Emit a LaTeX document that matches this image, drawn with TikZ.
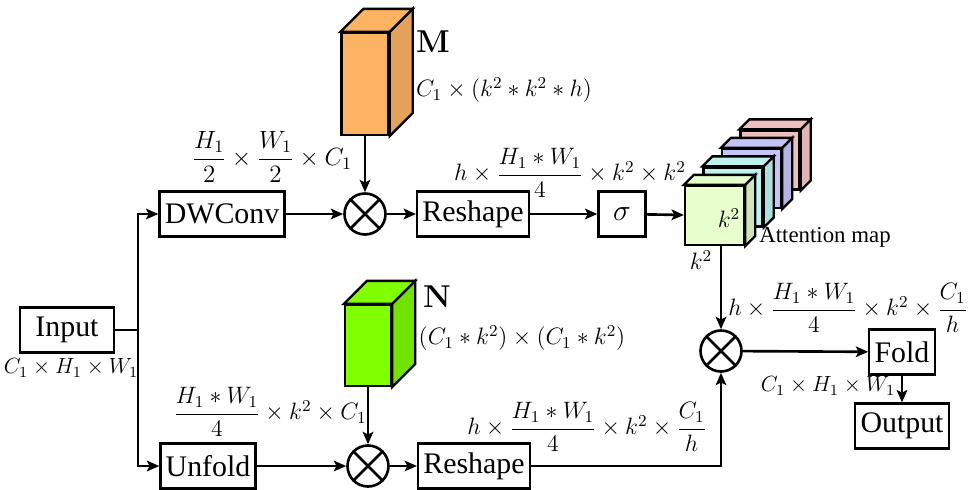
\documentclass[tikz,border=0pt]{standalone}
\usepackage{fix-cm}
\usepackage{amsmath}
\usepackage[no-math]{fontspec}
\setmainfont{Liberation Serif}
\usepackage{tikz}
\usetikzlibrary{arrows.meta,positioning,calc}

\definecolor{mfront}{RGB}{253,180,98}
\definecolor{mside}{RGB}{228,162,92}
\definecolor{nfront}{RGB}{128,255,0}
\definecolor{nside}{RGB}{112,228,0}
\definecolor{gfront}{RGB}{230,255,204}
\definecolor{gside}{RGB}{208,228,182}
\definecolor{cfront}{RGB}{190,242,240}
\definecolor{cside}{RGB}{174,222,222}
\definecolor{lfront}{RGB}{196,196,246}
\definecolor{lside}{RGB}{180,180,226}
\definecolor{pfront}{RGB}{238,192,192}
\definecolor{pside}{RGB}{226,180,180}

\tikzset{
    block/.style={draw, line width=1.3pt, fill=white, inner xsep=3pt, minimum height=0.9cm, font=\fontsize{17}{20}\selectfont},
    mult/.style={circle, draw, line width=1.5pt, minimum size=0.82cm, inner sep=0pt,
        path picture={\draw[line width=1.5pt] (path picture bounding box.north west) -- (path picture bounding box.south east)
            (path picture bounding box.south west) -- (path picture bounding box.north east);}},
    dims/.style={font=\fontsize{13.5}{16}\selectfont},
    face/.style={draw, line width=1.3pt, inner sep=0pt},
    arr/.style={-{Stealth[length=7pt,width=6pt,inset=1.5pt]}, line width=1.5pt},
    wire/.style={line width=1.5pt},
}

% side and top faces of a block drawn behind a front node
\newcommand{\depthfaces}[4]{%
    \draw[face, fill=#3] (#1.north east) -- ++(#2,-#2) -- ($(#1.south east)+(#2,-#2)$) -- (#1.south east) -- cycle;
    \draw[face, fill=#4] (#1.north west) -- ++(#2,-#2) -- ($(#1.north east)+(#2,-#2)$) -- (#1.north east) -- cycle;
}

\begin{document}
\begin{tikzpicture}[x=0.02cm, y=-0.02cm]
    \useasboundingbox (0,0) rectangle (970,490);

    % Input and split
    \node[block, minimum width=1.88cm] (in) at (67,330) {Input};
    \node[dims, font=\fontsize{12.5}{15}\selectfont] (inlbl) at (71,368) {$C_1 \times H_1 \times W_1$};
    \coordinate (split) at (138,330);

    % Upper branch
    \node[block] (dw) at (222,214) {DWConv};
    \node[dims, font=\fontsize{14.2}{17}\selectfont] (dwlbl) at (272,157) {$\dfrac{H_1}{2} \times \dfrac{W_1}{2} \times C_1$};
    \node[mult] (mul1) at (365,214) {};
    \node[block] (rs1) at (473,214) {Reshape};
    \node[dims] (rs1lbl) at (570,173) {$h \times \dfrac{H_1 * W_1}{4} \times k^2 \times k^2$};
    \node[block, minimum width=0.94cm] (sig) at (622,214) {$\sigma$};

    % Block M
    \node[face, fill=mfront, minimum width=0.94cm, minimum height=2.04cm] (M) at (365,84) {};
    \depthfaces{M}{23}{mside}{mfront}
    \node[font=\fontsize{18}{20}\selectfont] (mlbl) at (433,42) {$\mathbf{M}$};
    \node[dims] (mdim) at (504,90) {$C_1 \times (k^2 * k^2 * h)$};

    % Attention map
    \foreach \i/\fc/\sc in {3/pfront/pside, 2/lfront/lside, 1/cfront/cside, 0/gfront/gside} {
        \node[face, fill=\fc, minimum size=1.18cm] (att\i) at (714.5+18.5*\i, 215.5-18.5*\i) {};
        \depthfaces{att\i}{10}{\sc}{\fc}
    }
    \node[dims] (k2a) at (729,218) {$k^2$};
    \node[dims] (k2b) at (701,260) {$k^2$};
    \node[font=\fontsize{13}{15}\selectfont] (attlbl) at (825,237) {Attention map};

    % Lower branch
    \node[block] (unf) at (208,466) {Unfold};
    \node[dims] (unflbl) at (270,412) {$\dfrac{H_1 * W_1}{4} \times k^2 \times C_1$};
    \node[mult] (mul2) at (368,466) {};
    \node[block] (rs2) at (474,466) {Reshape};
    \node[dims] (rs2lbl) at (587,427) {$h \times \dfrac{H_1 * W_1}{4} \times k^2 \times \dfrac{C_1}{h}$};

    % Block N
    \node[face, fill=nfront, minimum width=0.92cm, minimum height=1.62cm] (N) at (368,345.5) {};
    \depthfaces{N}{23}{nside}{nfront}
    \node[font=\fontsize{18}{20}\selectfont] (nlbl) at (437,297) {$\mathbf{N}$};
    \node[dims] (ndim) at (522,338) {$(C_1 * k^2) \times (C_1 * k^2)$};

    % Merge and output
    \node[mult] (mul3) at (721,351) {};
    \node[dims] (mul3lbl) at (848,308) {$h \times \dfrac{H_1 * W_1}{4} \times k^2 \times \dfrac{C_1}{h}$};
    \node[block] (fold) at (902,352) {Fold};
    \node[dims, font=\fontsize{12.5}{15}\selectfont] (foldlbl) at (828,386) {$C_1 \times H_1 \times W_1$};
    \node[block] (out) at (902,426) {Output};

    % Connectors
    \draw[wire] (in) -- (split);
    \draw[arr] (split) |- (dw);
    \draw[arr] (split) |- (unf);
    \draw[arr] (dw) -- (mul1);
    \draw[arr] (M) -- (mul1);
    \draw[arr] (mul1) -- (rs1);
    \draw[arr] (rs1) -- (sig);
    \draw[arr] (sig) -- (att0);
    \draw[arr] (mul3 |- att0.south) -- (mul3);
    \draw[arr] (unf) -- (mul2);
    \draw[arr] (N) -- (mul2);
    \draw[arr] (mul2) -- (rs2);
    \draw[arr] (rs2) -| (mul3);
    \draw[arr] (mul3) -- (fold);
    \draw[arr] (fold) -- (out);
\end{tikzpicture}
\end{document}
